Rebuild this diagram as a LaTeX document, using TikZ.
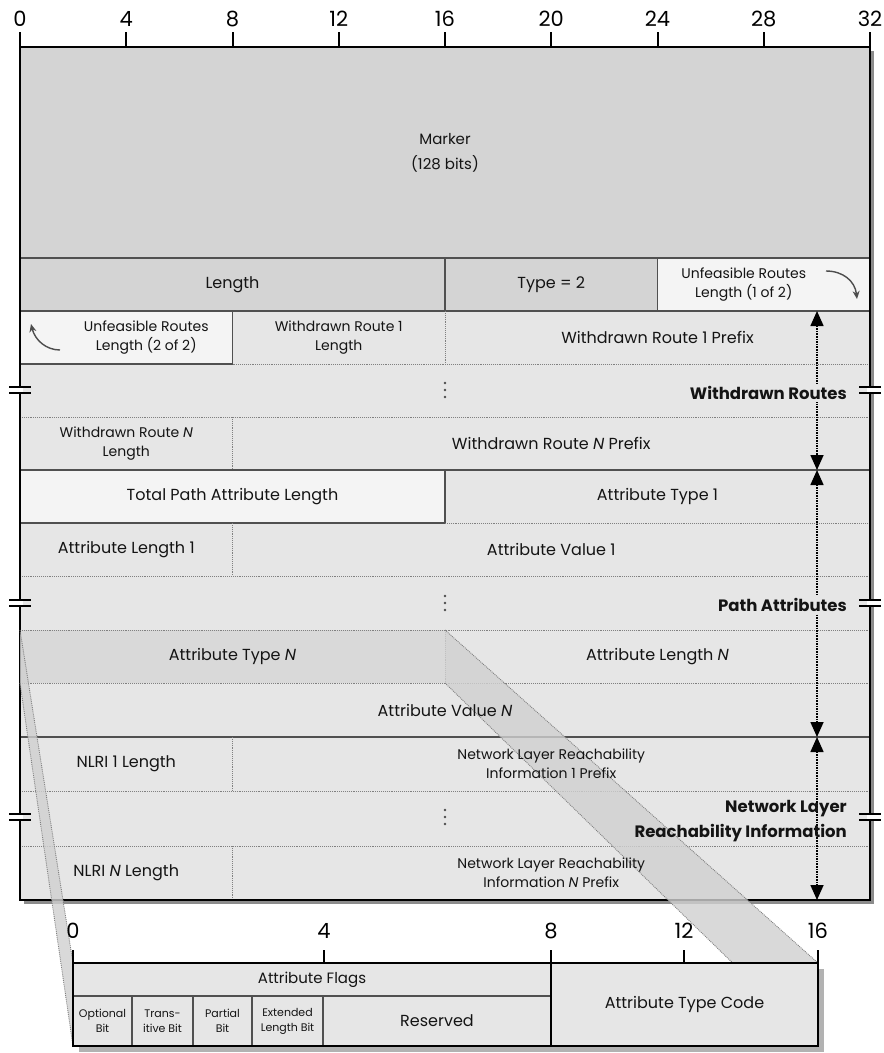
\documentclass[tikz,border=0pt]{standalone}
\usepackage{fontspec}
\setmainfont{Poppins}
\usetikzlibrary{arrows.meta}
\pgfdeclarelayer{bg}
\pgfdeclarelayer{grid}
\pgfdeclarelayer{band}
\pgfsetlayers{bg,grid,band,main}
\definecolor{cdark}{HTML}{D4D4D4}
\definecolor{clight}{HTML}{E6E6E6}
\definecolor{cpale}{HTML}{F4F4F4}
\definecolor{cmid}{HTML}{D9D9D9}
\definecolor{cband}{HTML}{D0D0D0}
\definecolor{cline}{HTML}{505050}
\newcommand\fsz[2]{\fontsize{#1}{#2}\selectfont}
% main-table cell: fill on background layer, text node on top
\newcommand\cellbox[8][]{%
  \begin{pgfonlayer}{bg}\fill[#7] (#3,#4) rectangle (#5,#6);\end{pgfonlayer}%
  \node[celltext, minimum width={(#5-#3)*1pt}, minimum height={(#6-#4)*1pt}, #1] (#2) at ({(#3+#5)/2},{(#4+#6)/2}) {#8};}
% detail cell: fill on main layer (above the band)
\newcommand\detcell[8][]{%
  \fill[#7] (#3,#4) rectangle (#5,#6);%
  \node[celltext, minimum width={(#5-#3)*1pt}, minimum height={(#6-#4)*1pt}, #1] (#2) at ({(#3+#5)/2},{(#4+#6)/2}) {#8};}
\begin{document}
\begin{tikzpicture}[x=1pt,y=-1pt,
  celltext/.style={inner sep=0pt, outer sep=0pt, align=center, text=black!92, font=\fsz{16}{20}},
  smalltext/.style={font=\fsz{14}{19}},
  tinytext/.style={font=\fsz{11}{15}},
  seclabel/.style={font=\bfseries\fsz{16.5}{25}, inner sep=2pt, text=black!92, align=right},
  rulenum/.style={font=\fsz{21}{21}, inner sep=0pt},
  sline/.style={draw=cline, line width=1.5pt},
  dline/.style={draw=black!50, line width=0.9pt, densely dotted},
  bordline/.style={draw=black, line width=2.4pt},
  varrow/.style={densely dotted, line width=1.6pt, {Triangle[width=13pt,length=15pt]}-{Triangle[width=13pt,length=15pt]}},
  curvarrow/.style={draw=black!70, line width=1.4pt, -{Stealth[length=8pt,width=7pt]}},
  breakline/.style={draw=black, line width=1.8pt}]
\useasboundingbox (0,0) rectangle (884,1053);

% shadow of the main box
\begin{pgfonlayer}{bg}
\fill[black!45] (24,51) rectangle (874,904);
\end{pgfonlayer}

% ---- main table cells ----
\cellbox[font=\fsz{15}{25}]{marker}{20}{47}{870}{258}{cdark}{Marker\\(128 bits)}
\cellbox{len}{20}{258}{445}{311}{cdark}{Length}
\cellbox{type}{445}{258}{657.5}{311}{cdark}{Type = 2}
\cellbox[smalltext, xshift=-20pt]{ufra}{657.5}{258}{870}{311}{cpale}{Unfeasible Routes\\Length (1 of 2)}
\cellbox[smalltext, xshift=20pt]{ufrb}{20}{311}{232.5}{364}{cpale}{Unfeasible Routes\\Length (2 of 2)}
\cellbox[smalltext]{wrlen}{232.5}{311}{445}{364}{clight}{Withdrawn Route 1\\Length}
\cellbox{wrpfx}{445}{311}{870}{364}{clight}{Withdrawn Route 1 Prefix}
\cellbox{wrdots}{20}{364}{870}{417}{clight}{}
\cellbox[smalltext]{wrnlen}{20}{417}{232.5}{470}{clight}{Withdrawn Route \textit{N}\\Length}
\cellbox{wrnpfx}{232.5}{417}{870}{470}{clight}{Withdrawn Route \textit{N} Prefix}
\cellbox{tpal}{20}{470}{445}{523}{cpale}{Total Path Attribute Length}
\cellbox{atone}{445}{470}{870}{523}{clight}{Attribute Type 1}
\cellbox{alone}{20}{523}{232.5}{576}{clight}{Attribute Length 1}
\cellbox{avone}{232.5}{523}{870}{576}{clight}{Attribute Value 1}
\cellbox{padots}{20}{576}{870}{630}{clight}{}
\cellbox{atN}{20}{630}{445}{683}{cmid}{Attribute Type \textit{N}}
\cellbox{alN}{445}{630}{870}{683}{clight}{Attribute Length \textit{N}}
\cellbox{avN}{20}{683}{870}{737}{clight}{Attribute Value \textit{N}}
\cellbox{nlonelen}{20}{737}{232.5}{791}{clight}{NLRI 1 Length}
\cellbox[smalltext]{nlonepfx}{232.5}{737}{870}{791}{clight}{Network Layer Reachability\\Information 1 Prefix}
\cellbox{nldots}{20}{791}{870}{846}{clight}{}
\cellbox{nlNlen}{20}{846}{232.5}{900}{clight}{NLRI \textit{N} Length}
\cellbox[smalltext]{nlNpfx}{232.5}{846}{870}{900}{clight}{Network Layer Reachability\\Information \textit{N} Prefix}

% ---- grid lines ----
\begin{pgfonlayer}{grid}
\draw[sline] (20,258)--(870,258) (20,311)--(870,311) (20,364)--(232.5,364)
  (20,470)--(870,470) (20,523)--(445,523) (20,737)--(870,737);
\draw[sline] (445,258)--(445,311) (657.5,258)--(657.5,311) (232.5,311)--(232.5,364) (445,470)--(445,523);
\draw[dline] (232.5,364)--(870,364) (20,417)--(870,417) (445,523)--(870,523) (20,576)--(870,576)
  (20,630)--(870,630) (20,683)--(870,683) (20,791)--(870,791) (20,846)--(870,846);
\draw[dline] (445,311)--(445,364) (232.5,417)--(232.5,470) (232.5,523)--(232.5,576)
  (445,630)--(445,683) (232.5,737)--(232.5,791) (232.5,846)--(232.5,900);
\draw[bordline] (20,32)--(20,900)--(870,900)--(870,32);
\draw[draw=black, line width=2.2pt] (20,47)--(870,47);
\foreach \k in {126.25,232.5,338.75,445,551.25,657.5,763.75}
  \draw[draw=black, line width=2pt] (\k,32)--(\k,47);
\end{pgfonlayer}

% ---- ruler numbers ----
\node[rulenum] (r0) at (20,19) {0};
\node[rulenum] (r4) at (126.25,19) {4};
\node[rulenum] (r8) at (232.5,19) {8};
\node[rulenum] (r12) at (338.75,19) {12};
\node[rulenum] (r16) at (445,19) {16};
\node[rulenum] (r20) at (551.25,19) {20};
\node[rulenum] (r24) at (657.5,19) {24};
\node[rulenum] (r28) at (763.75,19) {28};
\node[rulenum] (r32) at (870,19) {32};

% ---- curved arrows in the Unfeasible Routes cells ----
\coordinate (cuatail) at (826,271);
\coordinate (cuahead) at (857,299);
\draw[curvarrow] (cuatail) .. controls (843,271) and (855,281) .. (cuahead);
\coordinate (cubtail) at (60,350);
\coordinate (cubhead) at (31,324);
\draw[curvarrow] (cubtail) .. controls (46,350) and (35,340) .. (cubhead);

% ---- vertical dots ----
\foreach \yy in {390,603,817}{
  \fill[black!70] (445,\yy-7) circle (1.3) (445,\yy) circle (1.3) (445,\yy+7) circle (1.3);}

% ---- section arrows ----
\coordinate (wrtop) at (817,311);
\coordinate (wrbot) at (817,470);
\coordinate (patop) at (817,470);
\coordinate (pabot) at (817,737);
\coordinate (nltop) at (817,737);
\coordinate (nlbot) at (817,900);
\draw[varrow] (wrtop) -- (wrbot);
\draw[varrow] (patop) -- (pabot);
\draw[varrow] (nltop) -- (nlbot);
\node[seclabel, fill=clight, anchor=east] (lwr) at (849,393) {Withdrawn Routes};
\node[seclabel, fill=clight, anchor=east] (lpa) at (849,605) {Path Attributes};
\node[seclabel, anchor=east] (lnl) at (849,821) {Network Layer\\Reachability Information};

% ---- break marks ----
\foreach \yy in {390,603,817}{
  \fill[white] (17,\yy-3) rectangle (23,\yy+3);
  \fill[white] (867,\yy-3) rectangle (876,\yy+3);
  \draw[breakline] (9,\yy-3)--(31,\yy-3) (9,\yy+3)--(31,\yy+3);
  \draw[breakline] (859,\yy-3)--(881,\yy-3) (859,\yy+3)--(881,\yy+3);}

% ---- detail box ----
\fill[black!30] (79,969) rectangle (824,1052);
\detcell[font=\fsz{15}{18}]{aflags}{73}{963}{551}{996}{clight}{Attribute Flags}
\detcell[tinytext]{bopt}{73}{996}{132}{1046}{clight}{Optional\\Bit}
\detcell[tinytext]{btra}{132}{996}{193}{1046}{clight}{Trans-\\itive Bit}
\detcell[tinytext]{bpar}{193}{996}{252}{1046}{clight}{Partial\\Bit}
\detcell[tinytext]{bext}{252}{996}{323}{1046}{clight}{Extended\\Length Bit}
\detcell[font=\fsz{16}{18}]{bres}{323}{996}{551}{1046}{clight}{Reserved}
\detcell[font=\fsz{16}{18}]{atc}{551}{963}{818}{1046}{clight}{Attribute Type Code}
\draw[sline] (aflags.south west)--(aflags.south east);
\draw[sline] (bopt.north east)--(bopt.south east) (btra.north east)--(btra.south east)
  (bpar.north east)--(bpar.south east) (bext.north east)--(bext.south east);
\draw[draw=black, line width=1.5pt] (atc.north west)--(atc.south west);
\draw[bordline] (73,950)--(73,1046)--(818,1046)--(818,950);
\draw[draw=black, line width=2.2pt] (73,963)--(818,963);
\foreach \k in {324,551,684}
  \draw[draw=black, line width=2pt] (\k,950)--(\k,963);
\node[rulenum] (d0) at (73,931) {0};
\node[rulenum] (d4) at (324,931) {4};
\node[rulenum] (d8) at (551,931) {8};
\node[rulenum] (d12) at (684,931) {12};
\node[rulenum] (d16) at (818,931) {16};

% ---- projection band from Attribute Type N to the detail ----
\begin{pgfonlayer}{band}
\fill[cband, opacity=0.8] (atN.north west) -- (aflags.north west) -- (bopt.south west) -- (atN.south west) -- cycle;
\fill[cband, opacity=0.8] (atN.north east) -- (atc.north east) -- (atc.south east) -- (atN.south east) -- cycle;
\draw[dline] (atN.north west) -- (aflags.north west);
\draw[dline] (atN.south west) -- (bopt.south west);
\draw[dline] (atN.north east) -- (atc.north east);
\draw[dline] (atN.south east) -- (atc.south east);
\end{pgfonlayer}
\end{tikzpicture}
\end{document}
